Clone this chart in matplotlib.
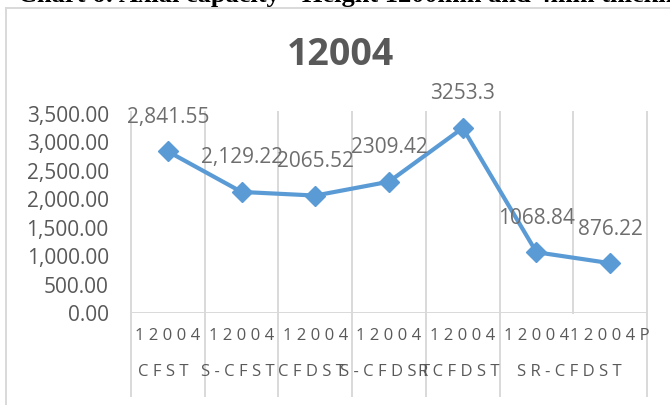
import matplotlib
matplotlib.use('Agg')
import matplotlib.pyplot as plt
import numpy as np
from matplotlib.lines import Line2D

# data
inner_labels = ['12004', '12004', '12004', '12004', '12004', '12004', '12004P']
group_labels = ['CFST', 'S-CFST', 'CFDST', 'S-CFDST', 'RCFDST', 'SR-CFDST']
group_sizes = [1, 1, 1, 1, 1, 2]
values = [2841.55, 2129.22, 2065.52, 2309.42, 3253.3, 1068.84, 876.22]
value_text = ['2,841.55', '2,129.22', '2065.52', '2309.42', '3253.3', '1068.84', '876.22']
yticks = [0, 500, 1000, 1500, 2000, 2500, 3000, 3500]

plt.rcParams['font.family'] = ['Open Sans', 'DejaVu Sans']

fig = plt.figure(figsize=(6.7, 4.05), dpi=100)
W, H = 670, 405
ax = fig.add_axes([131 / W, 1 - 313 / H, 516 / W, 199 / H])

grid_c = '#d9d9d9'
txt_c = '#595959'

x = np.arange(len(values))
ax.set_xlim(-0.5, len(values) - 0.5)
ax.set_ylim(0, 3500)
for s in ax.spines.values():
    s.set_visible(False)

# group boundaries (extend down through the label area)
bounds = np.concatenate([[-0.5], np.cumsum(group_sizes) - 0.5])
for b in np.arange(-0.5, len(values), 1.0):
    ext = b in bounds
    ax.axvline(b, ymin=-0.417 if ext else 0, ymax=1.01, color=grid_c,
               lw=1.4, clip_on=False, zorder=1)
ax.axhline(0, color=grid_c, lw=1.4, zorder=1)

ax.plot(x, values, color='#5b9bd5', lw=3, marker='D', markersize=10,
        zorder=3, clip_on=False)

for xi, v, t in zip(x, values, value_text):
    ax.annotate(t, (xi, v), xytext=(0, 24.5), textcoords='offset points',
                ha='center', va='center', fontsize=15, color='#6e6e6e',
                zorder=4)

ax.set_yticks(yticks)
ax.set_yticklabels(['{:,.2f}'.format(v) for v in yticks], fontsize=15,
                   color=txt_c)
ax.tick_params(axis='y', length=0, pad=16)
ax.set_xticks([])

# two-level category labels
for xi, lab in zip(x, inner_labels):
    ax.annotate(' '.join(lab), (xi, 0), xycoords=('data', 'axes fraction'),
                xytext=(0, -16.5), textcoords='offset points',
                ha='center', va='center', fontsize=12, color=txt_c)
starts = np.concatenate([[0], np.cumsum(group_sizes)[:-1]])
for st, n, lab in zip(starts, group_sizes, group_labels):
    cx = st + (n - 1) / 2
    ax.annotate(' '.join(lab), (cx, 0), xycoords=('data', 'axes fraction'),
                xytext=(-3, -42.5), textcoords='offset points',
                ha='center', va='center', fontsize=12, color=txt_c)

fig.text(340 / W, 1 - 55 / H, '12004', ha='center', va='center',
         fontsize=27, fontweight='bold', color=txt_c)

# chart border and the caption cut off at the top
fig.add_artist(Line2D([6 / W, 6 / W], [0, 1 - 8 / H], color=grid_c, lw=1.4))
fig.add_artist(Line2D([6 / W, 1], [1 - 8 / H, 1 - 8 / H], color=grid_c, lw=1.4))
fig.text(18 / W, 1 - 2 / H, 'Chart 6: Axial capacity - Height 1200mm and 4mm thickness',
         ha='left', va='baseline', fontsize=19, family='Liberation Serif',
         fontweight='bold', color='black')

fig.savefig('out.png', dpi=100, facecolor='white')
